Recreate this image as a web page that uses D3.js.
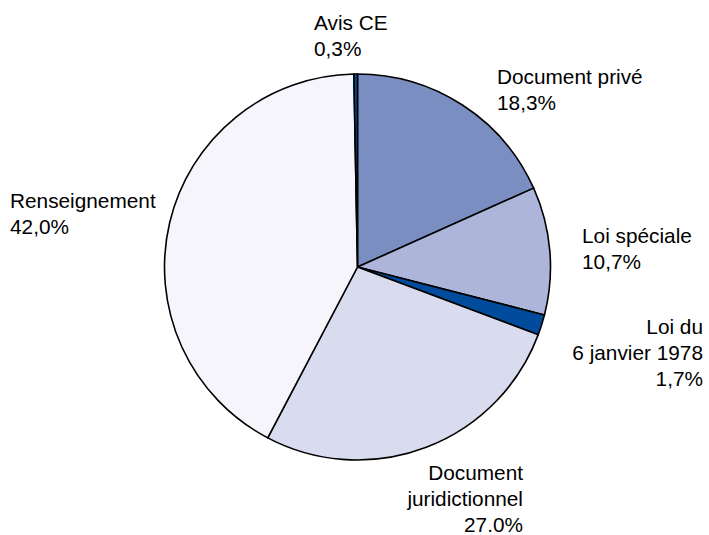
<!DOCTYPE html>
<html>
<head>
<meta charset="utf-8">
<script src="https://cdn.jsdelivr.net/npm/d3@7"></script>
<style>
  body { margin: 0; background: #fff; }
  text { font-family: "Liberation Sans", Arial, sans-serif; font-size: 20.8px; fill: #000; }
</style>
</head>
<body>
<script>
// data, clockwise from 12 o'clock
var categories = ['Document privé', 'Loi spéciale', 'Loi du 6 janvier 1978', 'Document juridictionnel', 'Renseignement', 'Avis CE'];
var values = [18.3, 10.7, 1.7, 27.0, 42.0, 0.3];
var valueLabels = ['18,3%', '10,7%', '1,7%', '27.0%', '42,0%', '0,3%'];
var labelLines = [
    ['Document privé'],
    ['Loi spéciale'],
    ['Loi du', '6 janvier 1978'],
    ['Document', 'juridictionnel'],
    ['Renseignement'],
    ['Avis CE']
];

var colors = ['#7b8ec2', '#adb5da', '#004b9b', '#d9dcee', '#f5f5fb', '#004b9b'];

// label placement (x, first baseline, anchor)
var labelPos = [
    {x: 497, y: 84, anchor: 'start'},
    {x: 582, y: 243, anchor: 'start'},
    {x: 703, y: 334, anchor: 'end'},
    {x: 523, y: 480, anchor: 'end'},
    {x: 10, y: 208, anchor: 'start'},
    {x: 314, y: 30, anchor: 'start'}
];
var lineStep = 26;

var width = 709, height = 535,
    cx = 357.5, cy = 267, radius = 193;

var svg = d3.select('body')
    .append('svg')
    .attr('width', width)
    .attr('height', height);

var pie = d3.pie().sort(null).value(function (d) { return d; });
var arc = d3.arc().innerRadius(0).outerRadius(radius);

var g = svg.append('g')
    .attr('transform', 'translate(' + cx + ',' + cy + ')');

g.selectAll('path').data(pie(values)).enter()
    .append('path')
    .attr('d', arc)
    .attr('fill', function (d, i) { return colors[i]; })
    .attr('stroke', '#000')
    .attr('stroke-width', 1.6)
    .attr('stroke-linejoin', 'round');

// labels
categories.forEach(function (c, i) {
    var lines = labelLines[i].concat([valueLabels[i]]);
    var t = svg.append('text')
        .attr('text-anchor', labelPos[i].anchor);
    lines.forEach(function (l, j) {
        t.append('tspan')
            .attr('x', labelPos[i].x)
            .attr('y', labelPos[i].y + j * lineStep)
            .text(l);
    });
});
</script>
</body>
</html>
